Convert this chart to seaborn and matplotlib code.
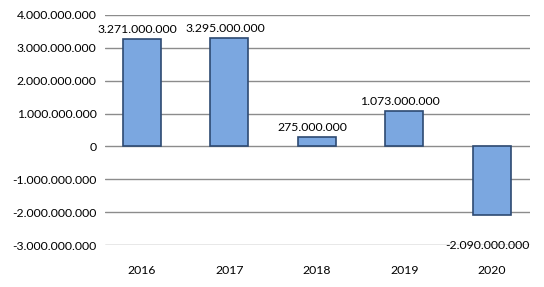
import matplotlib
matplotlib.use("Agg")
import matplotlib.pyplot as plt
import seaborn as sns
import pandas as pd
from matplotlib.ticker import FuncFormatter, MultipleLocator

years = ["2016", "2017", "2018", "2019", "2020"]
values = [3271000000, 3295000000, 275000000, 1073000000, -2090000000]

def fmt(v):
    return f"{v:,.0f}".replace(",", ".")

sns.set_theme(style="white")
plt.rcParams['font.family'] = ['Lato', 'DejaVu Sans']

df = pd.DataFrame({"year": years, "value": values})

fig = plt.figure(figsize=(5.44, 2.87), dpi=100)
ax = fig.add_axes([0.193, 0.146, 0.781, 0.802])

sns.barplot(data=df, x="year", y="value", ax=ax, color="#7BA7E0",
            width=0.434, edgecolor="#2E4A72", linewidth=1.2, saturation=1, zorder=3)

ax.set_ylim(-3e9, 4e9)
ax.set_xlim(-0.423, 4.434)
ax.yaxis.set_major_locator(MultipleLocator(1e9))
ax.yaxis.set_major_formatter(FuncFormatter(lambda v, p: fmt(v)))
ax.grid(axis="y", color="#8C8C8C", linewidth=1.0, zorder=0)
ax.grid(axis="x", visible=False)
for s in ax.spines.values():
    s.set_visible(False)
ax.set_xlabel("")
ax.set_ylabel("")
ax.tick_params(axis="y", length=0, pad=6, labelsize=8.8, labelcolor="black")
ax.tick_params(axis="x", length=0, pad=14, labelsize=8.8, labelcolor="black")

for i, v in enumerate(values):
    if v >= 0:
        ax.annotate(fmt(v), (i, v), xytext=(-3, 3), textcoords="offset points",
                    ha="center", va="bottom", fontsize=8.8, color="black")
    else:
        ax.annotate(fmt(v), (i, v), xytext=(-3, -18), textcoords="offset points",
                    ha="center", va="top", fontsize=8.8, color="black")

fig.savefig("out.png", dpi=100, facecolor="white")
